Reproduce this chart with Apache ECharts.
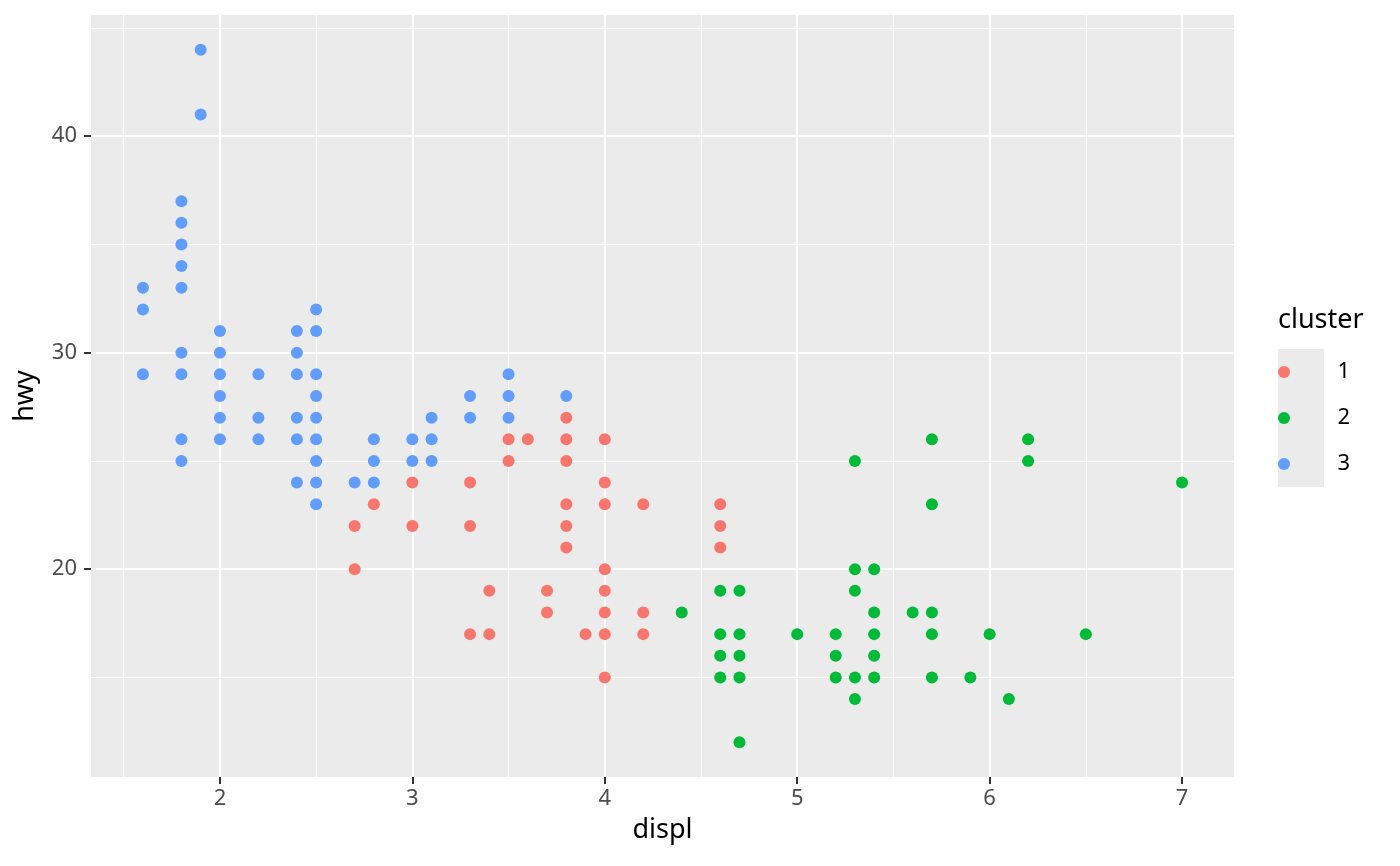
<!DOCTYPE html>
<html>
<head>
<meta charset="utf-8">
<title>hwy vs displ by cluster</title>
<script src="https://cdn.jsdelivr.net/npm/echarts@6/dist/echarts.min.js"></script>
<style>
  html, body { margin: 0; padding: 0; background: #fff; }
  #main { width: 1400px; height: 866px; }
</style>
</head>
<body>
<div id="main"></div>
<script>
// cluster 1 (red) : [displ, hwy]
var cluster1 = [
  [2.7,22],[2.7,20],[2.8,23],[3.0,24],[3.0,22],
  [3.3,24],[3.3,22],[3.3,17],[3.4,19],[3.4,17],
  [3.5,26],[3.5,25],[3.6,26],[3.7,19],[3.7,18],
  [3.8,27],[3.8,26],[3.8,25],[3.8,23],[3.8,22],[3.8,21],
  [3.9,17],[4.0,26],[4.0,24],[4.0,23],[4.0,20],[4.0,19],[4.0,18],[4.0,17],[4.0,15],
  [4.2,23],[4.2,18],[4.2,17],
  [4.6,23],[4.6,22],[4.6,21]
];
// cluster 2 (green)
var cluster2 = [
  [4.4,18],[4.6,19],[4.6,17],[4.6,16],[4.6,15],
  [4.7,19],[4.7,17],[4.7,16],[4.7,15],[4.7,12],
  [5.0,17],[5.2,17],[5.2,16],[5.2,15],
  [5.3,25],[5.3,20],[5.3,19],[5.3,15],[5.3,14],
  [5.4,20],[5.4,18],[5.4,17],[5.4,16],[5.4,15],
  [5.6,18],[5.7,26],[5.7,23],[5.7,18],[5.7,17],[5.7,15],
  [5.9,15],[6.0,17],[6.1,14],[6.2,26],[6.2,25],[6.5,17],[7.0,24]
];
// cluster 3 (blue)
var cluster3 = [
  [1.6,33],[1.6,32],[1.6,29],
  [1.8,37],[1.8,36],[1.8,35],[1.8,34],[1.8,33],[1.8,30],[1.8,29],[1.8,26],[1.8,25],
  [1.9,44],[1.9,41],
  [2.0,31],[2.0,30],[2.0,29],[2.0,28],[2.0,27],[2.0,26],
  [2.2,29],[2.2,27],[2.2,26],
  [2.4,31],[2.4,30],[2.4,29],[2.4,27],[2.4,26],[2.4,24],
  [2.5,32],[2.5,31],[2.5,29],[2.5,28],[2.5,27],[2.5,26],[2.5,25],[2.5,24],[2.5,23],
  [2.7,24],[2.8,26],[2.8,25],[2.8,24],
  [3.0,26],[3.0,25],[3.1,27],[3.1,26],[3.1,25],
  [3.3,28],[3.3,27],[3.5,29],[3.5,28],[3.5,27],[3.8,28]
];

var clusterNames = ['1', '2', '3'];
var clusterColors = ['#F8766D', '#00BA38', '#619CFF'];

var xTicks = [2, 3, 4, 5, 6, 7];
var xMinor = [1.5, 2.5, 3.5, 4.5, 5.5, 6.5];
var yTicks = [20, 30, 40];
var yMinor = [15, 25, 35, 45];

var FONT = 'Noto Sans';

var myChart = echarts.init(document.getElementById('main'));

// panel grid lines drawn as mark lines so they can sit exactly on the ggplot breaks
var gridLines = [];
xMinor.forEach(function (v) { gridLines.push({ xAxis: v, lineStyle: { width: 1.1 } }); });
yMinor.forEach(function (v) { gridLines.push({ yAxis: v, lineStyle: { width: 1.1 } }); });
xTicks.forEach(function (v) { gridLines.push({ xAxis: v, lineStyle: { width: 2.2 } }); });
yTicks.forEach(function (v) { gridLines.push({ yAxis: v, lineStyle: { width: 2.2 } }); });

var clusters = [cluster1, cluster2, cluster3];
var series = [{
  name: 'panel',
  type: 'scatter',
  data: [],
  silent: true,
  markLine: {
    z: 1,
    silent: true,
    animation: false,
    symbol: ['none', 'none'],
    label: { show: false },
    lineStyle: { color: '#FFFFFF', type: 'solid' },
    emphasis: { disabled: true },
    data: gridLines
  }
}];
for (var i = 0; i < clusters.length; i++) {
  series.push({
    name: clusterNames[i],
    type: 'scatter',
    z: 3,
    symbol: 'circle',
    symbolSize: 12,
    itemStyle: { color: clusterColors[i], opacity: 1 },
    data: clusters[i]
  });
}

var option = {
  animation: false,
  backgroundColor: '#FFFFFF',
  color: clusterColors,
  title: {
    text: 'cluster',
    left: 1278,
    top: 307,
    padding: 0,
    textStyle: { fontFamily: FONT, fontSize: 27, fontWeight: 'normal', color: '#000000' }
  },
  legend: {
    data: clusterNames,
    orient: 'vertical',
    left: 1278,
    top: 361,
    padding: 0,
    icon: 'circle',
    itemWidth: 45,
    itemHeight: 12,
    itemGap: 24,
    selectedMode: false,
    textStyle: {
      fontFamily: FONT,
      fontSize: 22,
      lineHeight: 22,
      color: '#000000',
      padding: [0, 0, 0, 26]
    }
  },
  graphic: [{
    type: 'rect',
    z: -1,
    silent: true,
    shape: { x: 1278, y: 349, width: 46, height: 138 },
    style: { fill: '#EBEBEB' }
  }],
  grid: {
    left: 91,
    right: 166,
    top: 15,
    bottom: 89,
    show: true,
    backgroundColor: '#EBEBEB',
    borderWidth: 0
  },
  xAxis: {
    type: 'value',
    min: 1.33,
    max: 7.27,
    name: 'displ',
    nameLocation: 'middle',
    nameGap: 40,
    nameTextStyle: { fontFamily: FONT, fontSize: 27, color: '#000000' },
    axisLine: { show: false },
    axisTick: { show: true, length: 7, customValues: xTicks, lineStyle: { color: '#333333', width: 2 } },
    axisLabel: { customValues: xTicks, margin: 11, fontFamily: FONT, fontSize: 22, color: '#4D4D4D' },
    splitLine: { show: false }
  },
  yAxis: {
    type: 'value',
    min: 10.4,
    max: 45.6,
    name: 'hwy',
    nameLocation: 'middle',
    nameGap: 52,
    nameTextStyle: { fontFamily: FONT, fontSize: 27, color: '#000000' },
    axisLine: { show: false },
    axisTick: { show: true, length: 7, customValues: yTicks, lineStyle: { color: '#333333', width: 2 } },
    axisLabel: { customValues: yTicks, margin: 14, fontFamily: FONT, fontSize: 22, color: '#4D4D4D' },
    splitLine: { show: false }
  },
  series: series
};

myChart.setOption(option);
</script>
</body>
</html>
